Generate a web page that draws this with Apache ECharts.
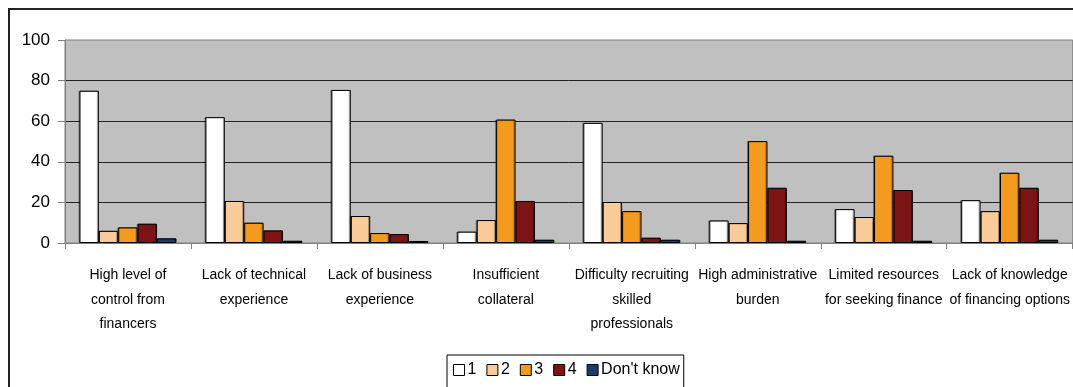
<!DOCTYPE html>
<html>
<head>
<meta charset="utf-8">
<script src="https://cdn.jsdelivr.net/npm/echarts@6/dist/echarts.min.js"></script>
<style>
html,body{margin:0;padding:0;background:#fff;}
#chart{width:1073px;height:387px;}
</style>
</head>
<body>
<div id="chart"></div>
<script>
const categories = [
  "High level of\ncontrol from\nfinancers",
  "Lack of technical\nexperience",
  "Lack of business\nexperience",
  "Insufficient\ncollateral",
  "Difficulty recruiting\nskilled\nprofessionals",
  "High administrative\nburden",
  "Limited resources\nfor seeking finance",
  "Lack of knowledge\nof financing options"
];
const seriesNames = ["1", "2", "3", "4", "Don't know"];
const s1 = [75, 62, 75.4, 5.6, 59.2, 11.1, 16.7, 21.1];
const s2 = [6, 20.7, 13.3, 11.3, 20.2, 9.8, 12.8, 15.7];
const s3 = [7.7, 10, 4.9, 60.8, 15.7, 50.2, 43, 34.6];
const s4 = [9.5, 6.2, 4.4, 20.7, 2.6, 27.2, 26.1, 27.2];
const s5 = [2.3, 1.1, 1, 1.6, 1.6, 1.1, 1.1, 1.6];
const colors = ["#FFFFFF", "#F9CB99", "#F39A1F", "#7C1416", "#1D3A6A"];
const yTicks = [0, 20, 40, 60, 80, 100];

const font = '"Liberation Sans Narrow", "Liberation Sans", Arial, sans-serif';
const chart = echarts.init(document.getElementById('chart'), null, {renderer: 'canvas'});
const allData = [s1, s2, s3, s4, s5];

chart.setOption({
  animation: false,
  textStyle: {fontFamily: font},
  graphic: [{
    type: 'rect', z: 100, silent: true,
    shape: {x: 9, y: 9, width: 1080, height: 400},
    style: {fill: 'none', stroke: '#222', lineWidth: 2}
  }],
  grid: {
    left: 65, right: 0, top: 40, bottom: 144,
    show: true, backgroundColor: '#C0C0C0', borderColor: '#808080', borderWidth: 1
  },
  legend: {
    left: 447, top: 355,
    data: seriesNames,
    itemWidth: 11, itemHeight: 11, itemGap: 10,
    borderColor: '#000', borderWidth: 1, borderRadius: 0,
    padding: [7, 4, 10, 6],
    backgroundColor: '#fff',
    textStyle: {fontSize: 16, color: '#000', fontFamily: font, padding: [0,0,0,-2]},
    icon: 'rect',
    itemStyle: {borderColor: '#000', borderWidth: 1}
  },
  xAxis: {
    type: 'category',
    data: categories,
    axisLine: {show: true, lineStyle: {color: '#808080', width: 1}},
    axisTick: {show: true, length: 6, lineStyle: {color: '#808080'}},
    axisLabel: {
      interval: 0, margin: 20, fontSize: 14, lineHeight: 24.5, color: '#000',
      fontFamily: font, align: 'center', verticalAlign: 'top'
    },
    splitLine: {show: false}
  },
  yAxis: {
    type: 'value', min: 0, max: 100, interval: 20,
    axisLine: {show: true, lineStyle: {color: '#808080', width: 1}},
    axisTick: {show: true, length: 7, lineStyle: {color: '#808080'}},
    axisLabel: {
      margin: 15, fontSize: 17, color: '#000', fontFamily: font,
      formatter: v => yTicks.includes(v) ? String(v) : ''
    },
    splitLine: {show: true, showMinLine: false, showMaxLine: false, lineStyle: {color: '#222', width: 1}}
  },
  series: seriesNames.map((n, i) => ({
    name: n, type: 'bar', data: allData[i],
    barGap: '0%', barCategoryGap: '23%',
    itemStyle: {
      color: colors[i], borderColor: '#000', borderWidth: 1,
      shadowColor: 'rgba(0,0,0,0.35)', shadowOffsetX: -1, shadowOffsetY: 0, shadowBlur: 0
    }
  }))
});
</script>
</body>
</html>
